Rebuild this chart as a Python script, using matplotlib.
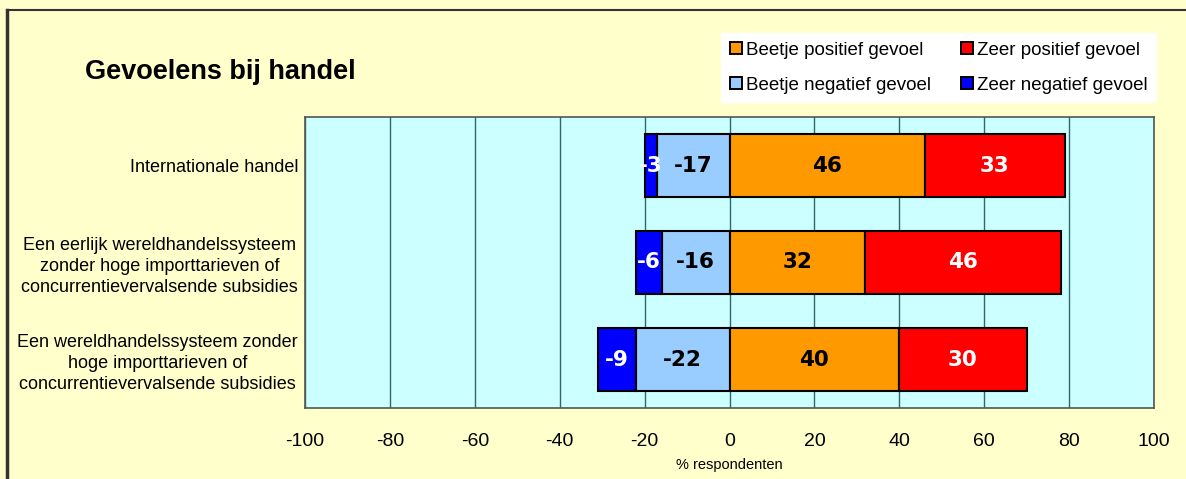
import matplotlib
matplotlib.use("Agg")
import matplotlib.pyplot as plt
from matplotlib.patches import Patch
from matplotlib.lines import Line2D

categories = [
    "Internationale handel",
    "Een eerlijk wereldhandelssysteem\nzonder hoge importtarieven of\nconcurrentievervalsende subsidies",
    "Een wereldhandelssysteem zonder\nhoge importtarieven of\nconcurrentievervalsende subsidies",
]
zeer_negatief = [-3, -6, -9]
beetje_negatief = [-17, -16, -22]
beetje_positief = [46, 32, 40]
zeer_positief = [33, 46, 30]
xticks = [-100, -80, -60, -40, -20, 0, 20, 40, 60, 80, 100]

BG = "#FFFFCC"
PLOT_BG = "#CCFFFF"
C_BPOS = "#FF9900"
C_ZPOS = "#FF0000"
C_BNEG = "#99CCFF"
C_ZNEG = "#0000FF"

fig = plt.figure(figsize=(11.86, 4.79), dpi=100, facecolor=BG)
ax = fig.add_axes([305/1186, 71/479, (1154-305)/1186, (408-117)/479])
ax.set_facecolor(PLOT_BG)

y = list(range(len(categories)))
h = 0.64
ekw = dict(edgecolor="black", linewidth=1.5, height=h, zorder=3)

ax.barh(y, beetje_negatief, left=0, color=C_BNEG, **ekw)
ax.barh(y, zeer_negatief, left=beetje_negatief, color=C_ZNEG, **ekw)
ax.barh(y, beetje_positief, left=0, color=C_BPOS, **ekw)
ax.barh(y, zeer_positief, left=beetje_positief, color=C_ZPOS, **ekw)

lab_kw = dict(ha="center", va="center", fontsize=15.5, fontweight="bold",
              family="DejaVu Sans", zorder=5)
for i in y:
    ax.text(beetje_negatief[i] / 2, i, str(beetje_negatief[i]), color="black", **lab_kw)
    ax.text(beetje_negatief[i] + zeer_negatief[i] / 2, i, str(zeer_negatief[i]), color="white", **lab_kw)
    ax.text(beetje_positief[i] / 2, i, str(beetje_positief[i]), color="black", **lab_kw)
    ax.text(beetje_positief[i] + zeer_positief[i] / 2, i, str(zeer_positief[i]), color="white", **lab_kw)

ax.set_xlim(-100, 100)
ax.set_ylim(len(categories) - 0.5, -0.5)
ax.set_xticks(xticks)
ax.set_xticklabels([str(t) for t in xticks], fontsize=14, family="Liberation Sans")
ax.tick_params(axis="x", length=0, pad=18)
ax.set_yticks(y)
ax.set_yticklabels(categories, fontsize=13, family="Liberation Sans",
                   multialignment="center", linespacing=1.3)
ax.tick_params(axis="y", length=0, pad=5)
ax.xaxis.grid(True, color="#336666", linewidth=1, zorder=0)
ax.set_axisbelow(True)
for s in ax.spines.values():
    s.set_color("#555555")
    s.set_linewidth(1.2)

ax.set_xlabel("% respondenten", fontsize=10.5, family="Liberation Sans", labelpad=6)

fig.text(85/1186, 1 - 72/479, "Gevoelens bij handel", fontsize=19.5, fontweight="bold",
         family="Liberation Sans", ha="left", va="center")

handles = [
    Patch(facecolor=C_BPOS, edgecolor="black", linewidth=1.4, label="Beetje positief gevoel"),
    Patch(facecolor=C_BNEG, edgecolor="black", linewidth=1.4, label="Beetje negatief gevoel"),
    Patch(facecolor=C_ZPOS, edgecolor="black", linewidth=1.4, label="Zeer positief gevoel"),
    Patch(facecolor=C_ZNEG, edgecolor="black", linewidth=1.4, label="Zeer negatief gevoel"),
]
leg = fig.legend(handles=handles, ncol=2, loc="upper left",
                 bbox_to_anchor=(712/1186, 1 - 24/479),
                 frameon=True, fancybox=False, facecolor="white", edgecolor="white",
                 prop={"family": "Liberation Sans", "size": 13.5},
                 handlelength=0.65, handleheight=0.65, handletextpad=0.2,
                 columnspacing=1.6, labelspacing=0.95, borderpad=0.45)
leg.get_frame().set_alpha(1)

fig.add_artist(Line2D([7/1186, 7/1186], [0, 1 - 10/479], color="#333333", linewidth=2.5,
                      transform=fig.transFigure))
fig.add_artist(Line2D([7/1186, 1], [1 - 10/479, 1 - 10/479], color="#333333", linewidth=1.5,
                      transform=fig.transFigure))

fig.savefig("out.png", dpi=100, facecolor=BG)
